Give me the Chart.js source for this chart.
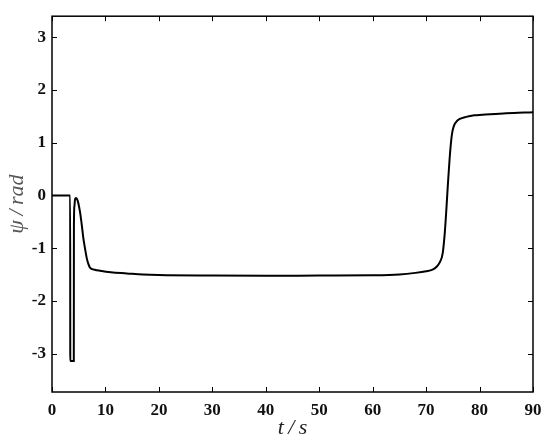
<!DOCTYPE html>
<html>
<head>
<meta charset="utf-8">
<script src="https://cdn.jsdelivr.net/npm/chart.js@4"></script>
<style>
  body { margin: 0; background: #fff; }
  #wrap { width: 550px; height: 445px; }
</style>
</head>
<body>
<div id="wrap"><canvas id="grafico"></canvas></div>
<script>
// data
const timeValues = [0, 3.4, 3.42, 4.08, 4.1, 4.2, 4.3, 4.5, 4.8, 5.2, 5.5, 5.85, 6.2, 6.5, 6.8, 7.1, 8, 9, 11, 14, 17, 20, 30, 40, 50, 60, 65, 68, 70, 71.2, 72, 72.5, 73.1, 73.5, 73.8, 74.1, 74.4, 74.7, 74.9, 75.2, 75.6, 76.3, 77.5, 79, 80.5, 85, 90];
const psiValues = [0, 0, -3.14, -3.14, -0.6, -0.2, -0.08, -0.05, -0.1, -0.29, -0.5, -0.8, -1.02, -1.19, -1.3, -1.37, -1.41, -1.43, -1.46, -1.48, -1.5, -1.51, -1.52, -1.525, -1.52, -1.515, -1.5, -1.47, -1.44, -1.41, -1.35, -1.28, -1.1, -0.7, -0.25, 0.25, 0.7, 1.05, 1.2, 1.32, 1.39, 1.45, 1.49, 1.52, 1.53, 1.56, 1.58];
const xTicks = [0, 10, 20, 30, 40, 50, 60, 70, 80, 90];
const yTicks = [-3, -2, -1, 0, 1, 2, 3];

const puntos = timeValues.map((t, i) => ({ x: t, y: psiValues[i] }));

// box around the plot with inward ticks on all four sides
const cajaPlugin = {
  id: 'caja',
  afterDraw(chart) {
    const ctx = chart.ctx;
    const a = chart.chartArea;
    const sx = chart.scales.x;
    const sy = chart.scales.y;
    const largo = 5;
    ctx.save();
    ctx.strokeStyle = '#000';
    ctx.lineWidth = 1.5;
    ctx.strokeRect(a.left, a.top, a.right - a.left, a.bottom - a.top);
    ctx.lineWidth = 1;
    ctx.beginPath();
    xTicks.forEach(v => {
      const px = Math.round(sx.getPixelForValue(v)) + 0.5;
      ctx.moveTo(px, a.bottom); ctx.lineTo(px, a.bottom - largo);
      ctx.moveTo(px, a.top); ctx.lineTo(px, a.top + largo);
    });
    yTicks.forEach(v => {
      const py = Math.round(sy.getPixelForValue(v)) + 0.5;
      ctx.moveTo(a.left, py); ctx.lineTo(a.left + largo, py);
      ctx.moveTo(a.right, py); ctx.lineTo(a.right - largo, py);
    });
    ctx.stroke();
    ctx.restore();
  }
};

const fuenteTicks = { family: "'Liberation Serif', 'Times New Roman', serif", size: 17, weight: 'bold' };
const fuenteTitulo = { family: "'Liberation Serif', 'Times New Roman', serif", size: 22, style: 'italic', lineHeight: 1 };

new Chart(document.getElementById('grafico').getContext('2d'), {
  type: 'line',
  data: {
    datasets: [{
      data: puntos,
      borderColor: '#000',
      borderWidth: 2,
      pointRadius: 0,
      cubicInterpolationMode: 'monotone',
      fill: false
    }]
  },
  options: {
    responsive: true,
    maintainAspectRatio: false,
    animation: false,
    layout: { padding: { top: 13, right: 17, left: 0, bottom: 0 } },
    plugins: {
      legend: { display: false },
      tooltip: { enabled: false }
    },
    scales: {
      x: {
        type: 'linear',
        min: 0,
        max: 90,
        afterBuildTicks: s => { s.ticks = xTicks.map(v => ({ value: v })); },
        afterFit: s => { s.height = 53; },
        grid: { display: false, drawTicks: false },
        border: { display: false },
        ticks: { padding: 8, color: '#111', font: fuenteTicks, maxRotation: 0 },
        title: {
          display: true,
          text: 't\u2009/\u2009s',
          color: '#222',
          font: fuenteTitulo,
          padding: { top: 0, bottom: 6 }
        }
      },
      y: {
        min: -3.73,
        max: 3.4,
        afterBuildTicks: s => { s.ticks = yTicks.map(v => ({ value: v })); },
        afterFit: s => { s.width = 52; },
        grid: { display: false, drawTicks: false },
        border: { display: false },
        ticks: { padding: 6, color: '#111', font: fuenteTicks },
        title: {
          display: true,
          text: 'ψ\u2009/\u2009rad',
          color: '#555',
          font: fuenteTitulo,
          padding: { top: 6, bottom: 0 }
        }
      }
    }
  },
  plugins: [cajaPlugin]
});
</script>
</body>
</html>
